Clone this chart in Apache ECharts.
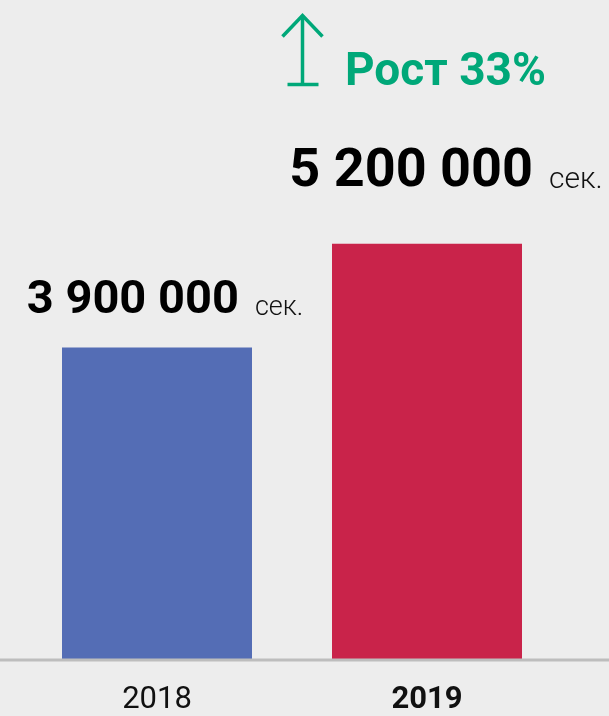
<!DOCTYPE html>
<html>
<head>
<meta charset="utf-8">
<script src="https://cdn.jsdelivr.net/npm/echarts@6/dist/echarts.min.js"></script>
<style>
  html, body { margin: 0; padding: 0; background: #ededed; }
  #chart { width: 609px; height: 716px; }
</style>
</head>
<body>
<div id="chart"></div>
<script>
const years = ['2018', '2019']
const seconds = [3900000, 5200000]
const unit = 'сек.'
const growthText = 'Рост 33%'

const barColors = ['#546db5', '#c9234a']
const green = '#00a879'

const fmt = v => String(v).replace(/\B(?=(\d{3})+(?!\d))/g, ' ')

const chart = echarts.init(document.getElementById('chart'))

const labelFor = (big) => ({
  show: true,
  position: 'top',
  distance: big ? 44 : 23,
  offset: big ? [19, 0] : [8, 0],
  formatter: p => '{n|' + fmt(p.value) + '}{u|' + unit + '}',
  rich: {
    n: { fontFamily: 'Roboto', fontWeight: 'bold', fontSize: big ? 54 : 47, color: '#000', verticalAlign: 'bottom' },
    u: {
      fontFamily: 'Roboto', fontWeight: 300, fontSize: big ? 30 : 27, color: '#111',
      verticalAlign: 'bottom', padding: big ? [0, 0, 4, 16] : [0, 0, 3, 16]
    }
  }
})

const option = {
  backgroundColor: '#ededed',
  animation: false,
  grid: { left: 22, right: 47, top: 20, bottom: 56 },
  xAxis: {
    type: 'category',
    data: years,
    axisLine: { show: false },
    axisTick: { show: false },
    axisLabel: {
      margin: 26,
      formatter: (v, i) => i === years.length - 1 ? '{b|' + v + '}' : '{a|' + v + '}',
      rich: {
        a: { fontFamily: 'Roboto', fontSize: 31, fontWeight: 'normal', color: '#111' },
        b: { fontFamily: 'Roboto', fontSize: 31, fontWeight: 'bold', color: '#111' }
      }
    }
  },
  yAxis: {
    type: 'value',
    min: 0,
    max: 8000000,
    show: false,
    splitLine: { show: false }
  },
  graphic: [
    {
      type: 'line',
      z: 10,
      shape: { x1: 0, y1: 660, x2: 609, y2: 660 },
      style: { stroke: '#bdbdbd', lineWidth: 3 }
    },
    {
      type: 'group',
      left: 280,
      top: 13,
      children: [
        { type: 'polyline', shape: { points: [[0, 22], [20, 1], [40, 22]] }, style: { stroke: green, lineWidth: 3.5, fill: null } },
        { type: 'line', shape: { x1: 20, y1: 1, x2: 20, y2: 70 }, style: { stroke: green, lineWidth: 3.5 } },
        { type: 'line', shape: { x1: 5, y1: 70, x2: 36, y2: 70 }, style: { stroke: green, lineWidth: 3.5 } }
      ]
    },
    {
      type: 'text',
      left: 345,
      top: 50,
      style: {
        text: growthText,
        fill: green,
        font: 'bold 46px Roboto'
      }
    }
  ],
  series: [{
    type: 'bar',
    barWidth: 190,
    data: seconds.map((v, i) => ({
      value: v,
      itemStyle: { color: barColors[i] },
      label: labelFor(i === seconds.length - 1)
    }))
  }]
}

chart.setOption(option)
</script>
</body>
</html>
